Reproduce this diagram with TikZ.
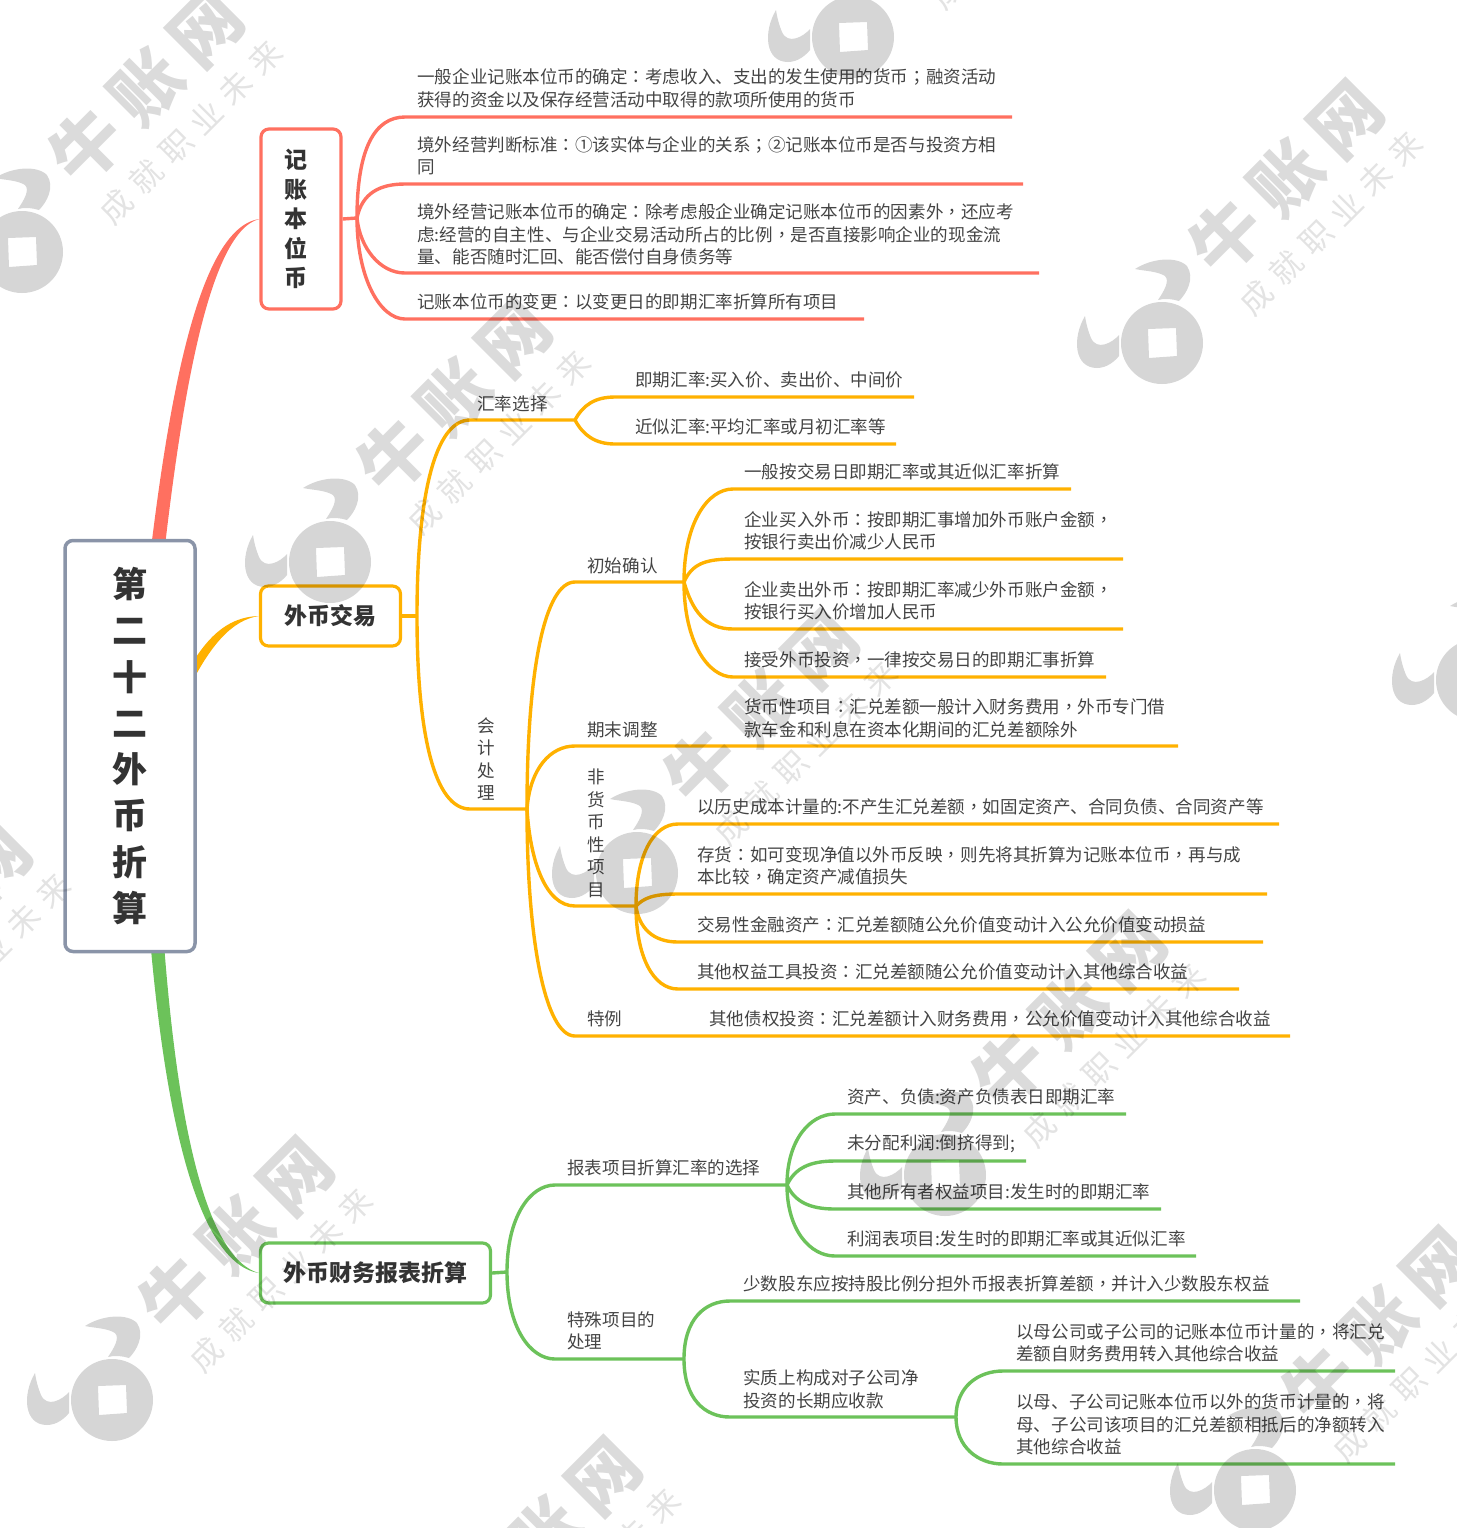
\documentclass[tikz,border=0pt]{standalone}
\usepackage{xcolor}
\usepackage{fontspec}
\setmainfont{Noto Sans CJK SC}
\newfontfamily\pfont{Noto Sans CJK TC}
\catcode`，=\active \protected\def，{{\pfont\char"FF0C }}
\catcode`：=\active \protected\def：{{\pfont\char"FF1A }}
\catcode`；=\active \protected\def；{{\pfont\char"FF1B }}
\definecolor{maproot}{RGB}{138,148,168}
\definecolor{mapred}{RGB}{255,112,96}
\definecolor{maporange}{RGB}{255,177,0}
\definecolor{mapgreen}{RGB}{108,194,90}
\definecolor{maptext}{RGB}{68,68,68}
\tikzstyle{root}=[draw=maproot,fill=white,line width=1.75pt,rounded corners=4pt,minimum width=65pt,minimum height=205.5pt,align=center,inner sep=0pt,text=black!80,font=\fontsize{17.5pt}{23.15pt}\selectfont\bfseries]
\tikzstyle{topic}=[fill=white,line width=1.6pt,rounded corners=4pt,align=center,inner sep=0pt,text=black!80,font=\fontsize{11.5pt}{14.75pt}\selectfont\bfseries]
\tikzstyle{txt}=[anchor=west,align=left,inner sep=0pt,yshift=-.5pt,text=maptext,font=\fontsize{8.77pt}{11.25pt}\selectfont]
\tikzstyle{redline}=[draw=mapred,line width=1.7pt]
\tikzstyle{orangeline}=[draw=maporange,line width=1.7pt]
\tikzstyle{greenline}=[draw=mapgreen,line width=1.7pt]
\tikzstyle{wmshade}=[fill=black,opacity=.16]
\tikzstyle{wmbig}=[rotate=45,inner sep=0pt,text=black,opacity=.14,font=\fontsize{35pt}{35pt}\selectfont\bfseries]
\tikzstyle{wmsmall}=[rotate=45,inner sep=0pt,text=black,opacity=.11,font=\fontsize{16pt}{16pt}\selectfont]
\newcommand{\wmark}[3]{%
  \begin{scope}[shift={(#2,#3)}]
    \fill[wmshade,even odd rule] (0,0) circle [radius=41] (-14,-14) -- (14,-15) -- (15,13) -- (-13,15) -- cycle;
    \fill[wmshade] (-77,-27) .. controls (-90,-5) and (-88,25) .. (-65,25) .. controls (-55,25) and (-47,18) .. (-43,13) -- (-43,-8) .. controls (-50,0) and (-65,8) .. (-71,-5) .. controls (-74,-12) and (-76,-20) .. (-77,-27) -- cycle;
    \fill[wmshade] (-27,-74) .. controls (-10,-85) and (15,-87) .. (25,-77) .. controls (33,-65) and (25,-50) .. (17,-42) .. controls (10,-44) and (3,-45) .. (-4,-43) .. controls (2,-52) and (8,-62) .. (3,-67) .. controls (-5,-72) and (-18,-72) .. (-27,-74) -- cycle;
    \node[wmbig] (#1a) at (124,-165) {牛\hspace{7pt}账\hspace{7pt}网};
    \node[wmsmall] (#1b) at (169,-120) {成\hspace{5pt}就\hspace{5pt}职\hspace{5pt}业\hspace{5pt}未\hspace{5pt}来};
  \end{scope}}

\begin{document}
\begin{tikzpicture}[x=.5pt,y=-.5pt]
  \path[use as bounding box,clip] (0,0) rectangle (1457,1528);

  %% Main topics
  \draw (301,219) node[topic,draw=mapred,minimum width=40pt,minimum height=90pt] (B1) {记\kern5pt\\账\kern5pt\\本\kern5pt\\位\kern5pt\\币\kern5pt};
  \draw (330.5,616) node[topic,draw=maporange,minimum width=70pt,minimum height=30pt] (B2) {外币交易};
  \draw (375.5,1273) node[topic,draw=mapgreen,minimum width=115pt,minimum height=30pt] (B3) {外币财务报表折算};

  %% Tapered branches, their wide ends sit behind the root
  \coordinate (Ra) at (145,600);
  \coordinate (Rb) at (159,600);
  \coordinate (Oa) at (185,675);
  \coordinate (Ob) at (187,692);
  \coordinate (Ga) at (147,900);
  \coordinate (Gb) at (161,900);
  \fill[mapred] (Ra) .. controls (165,420) and (195,228) .. (B1.west) .. controls (206,232) and (178,420) .. (Rb) -- cycle;
  \fill[maporange] (Oa) .. controls (205,640) and (225,617) .. (B2.west) .. controls (232,620) and (210,645) .. (Ob) -- cycle;
  \fill[mapgreen] (Ga) .. controls (160,1080) and (190,1262) .. (B3.west) .. controls (198,1256) and (172,1080) .. (Gb) -- cycle;

  \draw (130,746) node[root] (Rt) {第\\二\\十\\二\\外\\币\\折\\算};

  %% Red branch
  \coordinate (RH) at (357,218);
  \draw (417,87.5) node[txt] (R1) {一般企业记账本位币的确定：考虑收入、支出的发生使用的货币；融资活动\\获得的资金以及保存经营活动中取得的款项所使用的货币};
  \draw (417,155) node[txt] (R2) {境外经营判断标准：①该实体与企业的关系；②记账本位币是否与投资方相\\同};
  \draw (417,233.5) node[txt] (R3) {境外经营记账本位币的确定：除考虑般企业确定记账本位币的因素外，还应考\\虑:经营的自主性、与企业交易活动所占的比例，是否直接影响企业的现金流\\量、能否随时汇回、能否偿付自身债务等};
  \draw (417,301) node[txt] (R4) {记账本位币的变更：以变更日的即期汇率折算所有项目};
  \coordinate (R1a) at (405,117);
  \coordinate (R1b) at (1012,117);
  \coordinate (R2a) at (405,184);
  \coordinate (R2b) at (1023,184);
  \coordinate (R3a) at (405,273);
  \coordinate (R3b) at (1039,273);
  \coordinate (R4a) at (405,319);
  \coordinate (R4b) at (864,319);
  \draw[redline] (B1.east) -- (RH);
  \draw[redline] (RH) .. controls +(0,-70) and +(-30,0) .. (R1a) -- (R1b);
  \draw[redline] (RH) .. controls +(5,-25) and +(-25,0) .. (R2a) -- (R2b);
  \draw[redline] (RH) .. controls +(3,30) and +(-25,0) .. (R3a) -- (R3b);
  \draw[redline] (RH) .. controls +(0,60) and +(-25,0) .. (R4a) -- (R4b);

  %% Orange branch, first level
  \coordinate (YH) at (417,616);
  \draw (477,403) node[txt] (Y1) {汇率选择};
  \draw (477,758) node[txt] (Y2) {会\\计\\处\\理};
  \coordinate (Y1a) at (470,420);
  \coordinate (Y1b) at (575,420);
  \coordinate (Y2a) at (470,809);
  \coordinate (Y2b) at (527,809);
  \draw[orangeline] (B2.east) -- (YH);
  \draw[orangeline] (YH) .. controls +(0,-120) and +(-35,0) .. (Y1a) -- (Y1b);
  \draw[orangeline] (YH) .. controls +(0,120) and +(-35,0) .. (Y2a) -- (Y2b);

  %% Exchange rate choice
  \draw (635,379) node[txt] (Y11) {即期汇率:买入价、卖出价、中间价};
  \draw (635,426) node[txt] (Y12) {近似汇率:平均汇率或月初汇率等};
  \coordinate (Y11a) at (615,397);
  \coordinate (Y11b) at (914,397);
  \coordinate (Y12a) at (615,444);
  \coordinate (Y12b) at (896,444);
  \draw[orangeline] (Y1b) .. controls +(8,-15) and +(-20,0) .. (Y11a) -- (Y11b);
  \draw[orangeline] (Y1b) .. controls +(8,15) and +(-20,0) .. (Y12a) -- (Y12b);

  %% Accounting
  \draw (587,565) node[txt] (Y21) {初始确认};
  \draw (587,729) node[txt] (Y22) {期末调整};
  \draw (587,832.5) node[txt] (Y23) {非\\货\\币\\性\\项\\目};
  \draw (587,1018) node[txt] (Y24) {特例};
  \coordinate (Y21a) at (575,582);
  \coordinate (Y21b) at (684,582);
  \coordinate (Y22a) at (575,746);
  \coordinate (Y22b) at (1178,746);
  \coordinate (Y23a) at (575,906);
  \coordinate (Y23b) at (636,906);
  \coordinate (Y24a) at (575,1036);
  \coordinate (Y24b) at (1290,1036);
  \draw[orangeline] (Y2b) .. controls +(0,-140) and +(-30,0) .. (Y21a) -- (Y21b);
  \draw[orangeline] (Y2b) .. controls +(3,-40) and +(-25,0) .. (Y22a) -- (Y22b);
  \draw[orangeline] (Y2b) .. controls +(3,50) and +(-30,0) .. (Y23a) -- (Y23b);
  \draw[orangeline] (Y2b) .. controls +(0,130) and +(-30,0) .. (Y24a) -- (Y24b);

  \draw (744,471) node[txt] (Y31) {一般按交易日即期汇率或其近似汇率折算};
  \draw (744,530) node[txt] (Y32) {企业买入外币：按即期汇事增加外币账户金额，\\按银行卖出价减少人民币};
  \draw (744,600) node[txt] (Y33) {企业卖出外币：按即期汇率减少外币账户金额，\\按银行买入价增加人民币};
  \draw (744,659) node[txt] (Y34) {接受外币投资，一律按交易日的即期汇事折算};
  \coordinate (Y31a) at (733,489);
  \coordinate (Y31b) at (1071,489);
  \coordinate (Y32a) at (733,559);
  \coordinate (Y32b) at (1123,559);
  \coordinate (Y33a) at (733,629);
  \coordinate (Y33b) at (1123,629);
  \coordinate (Y34a) at (733,677);
  \coordinate (Y34b) at (1106,677);
  \draw[orangeline] (Y21b) .. controls +(0,-60) and +(-25,0) .. (Y31a) -- (Y31b);
  \draw[orangeline] (Y21b) .. controls +(8,-18) and +(-28,0) .. (Y32a) -- (Y32b);
  \draw[orangeline] (Y21b) .. controls +(8,28) and +(-28,0) .. (Y33a) -- (Y33b);
  \draw[orangeline] (Y21b) .. controls +(0,60) and +(-25,0) .. (Y34a) -- (Y34b);

  \draw (744,717.5) node[txt] (Y41) {货币性项目：汇兑差额一般计入财务费用，外币专门借\\款车金和利息在资本化期间的汇兑差额除外};

  \draw (697,806) node[txt] (Y51) {以历史成本计量的:不产生汇兑差额，如固定资产、合同负债、合同资产等};
  \draw (697,865) node[txt] (Y52) {存货：如可变现净值以外币反映，则先将其折算为记账本位币，再与成\\本比较，确定资产减值损失};
  \draw (697,924) node[txt] (Y53) {交易性金融资产：汇兑差额随公允价值变动计入公允价值变动损益};
  \draw (697,971) node[txt] (Y54) {其他权益工具投资：汇兑差额随公允价值变动计入其他综合收益};
  \coordinate (Y51a) at (678,824);
  \coordinate (Y51b) at (1279,824);
  \coordinate (Y52a) at (678,894);
  \coordinate (Y52b) at (1267,894);
  \coordinate (Y53a) at (678,942);
  \coordinate (Y53b) at (1263,942);
  \coordinate (Y54a) at (678,989);
  \coordinate (Y54b) at (1239,989);
  \draw[orangeline] (Y23b) .. controls +(0,-50) and +(-25,0) .. (Y51a) -- (Y51b);
  \draw[orangeline] (Y23b) .. controls +(8,-8) and +(-25,0) .. (Y52a) -- (Y52b);
  \draw[orangeline] (Y23b) .. controls +(3,22) and +(-25,0) .. (Y53a) -- (Y53b);
  \draw[orangeline] (Y23b) .. controls +(0,50) and +(-25,0) .. (Y54a) -- (Y54b);

  \draw (709,1018) node[txt] (Y61) {其他债权投资：汇兑差额计入财务费用，公允价值变动计入其他综合收益};

  %% Green branch, first level
  \coordinate (GH) at (507,1272);
  \draw (567,1167) node[txt] (G1) {报表项目折算汇率的选择};
  \draw (567,1330) node[txt] (G2) {特殊项目的\\处理};
  \coordinate (G1a) at (555,1185);
  \coordinate (G1b) at (787,1185);
  \coordinate (G2a) at (555,1359);
  \coordinate (G2b) at (684,1359);
  \draw[greenline] (B3.east) -- (GH);
  \draw[greenline] (GH) .. controls +(0,-55) and +(-25,0) .. (G1a) -- (G1b);
  \draw[greenline] (GH) .. controls +(0,55) and +(-25,0) .. (G2a) -- (G2b);

  \draw (847,1096) node[txt] (G11) {资产、负债:资产负债表日即期汇率};
  \draw (847,1143) node[txt] (G12) {未分配利润:倒挤得到;};
  \draw (847,1191) node[txt] (G13) {其他所有者权益项目:发生时的即期汇率};
  \draw (847,1238) node[txt] (G14) {利润表项目:发生时的即期汇率或其近似汇率};
  \coordinate (G11a) at (835,1114);
  \coordinate (G11b) at (1126,1114);
  \coordinate (G12a) at (835,1161);
  \coordinate (G12b) at (1026,1161);
  \coordinate (G13a) at (835,1209);
  \coordinate (G13b) at (1161,1209);
  \coordinate (G14a) at (835,1256);
  \coordinate (G14b) at (1196,1256);
  \draw[greenline] (G1b) .. controls +(0,-45) and +(-25,0) .. (G11a) -- (G11b);
  \draw[greenline] (G1b) .. controls +(8,-17) and +(-25,0) .. (G12a) -- (G12b);
  \draw[greenline] (G1b) .. controls +(8,17) and +(-25,0) .. (G13a) -- (G13b);
  \draw[greenline] (G1b) .. controls +(0,45) and +(-25,0) .. (G14a) -- (G14b);

  \draw (743,1283) node[txt] (G21) {少数股东应按持股比例分担外币报表折算差额，并计入少数股东权益};
  \draw (743,1388.5) node[txt] (G22) {实质上构成对子公司净\\投资的长期应收款};
  \coordinate (G21a) at (730,1301);
  \coordinate (G21b) at (1300,1301);
  \coordinate (G22a) at (730,1417);
  \coordinate (G22b) at (956,1417);
  \draw[greenline] (G2b) .. controls +(0,-40) and +(-25,0) .. (G21a) -- (G21b);
  \draw[greenline] (G2b) .. controls +(0,40) and +(-25,0) .. (G22a) -- (G22b);

  \draw (1016,1342) node[txt] (G31) {以母公司或子公司的记账本位币计量的，将汇兑\\差额自财务费用转入其他综合收益};
  \draw (1016,1423.5) node[txt] (G32) {以母、子公司记账本位币以外的货币计量的，将\\母、子公司该项目的汇兑差额相抵后的净额转入\\其他综合收益};
  \coordinate (G31a) at (1003,1371);
  \coordinate (G31b) at (1395,1371);
  \coordinate (G32a) at (1003,1464);
  \coordinate (G32b) at (1395,1464);
  \draw[greenline] (G22b) .. controls +(0,-30) and +(-25,0) .. (G31a) -- (G31b);
  \draw[greenline] (G22b) .. controls +(0,30) and +(-25,0) .. (G32a) -- (G32b);

  %% Watermarks
  \wmark{WA}{22}{252}
  \wmark{WB}{330}{562}
  \wmark{WC}{1162}{343}
  \wmark{WD}{853}{37}
  \wmark{WE}{637}{873}
  \wmark{WF}{1477}{680}
  \wmark{WG}{945}{1175}
  \wmark{WH}{112}{1400}
  \wmark{WI}{1255}{1490}
  \wmark{WJ}{420}{1700}
  \wmark{WK}{-190}{1085}
\end{tikzpicture}
\end{document}
